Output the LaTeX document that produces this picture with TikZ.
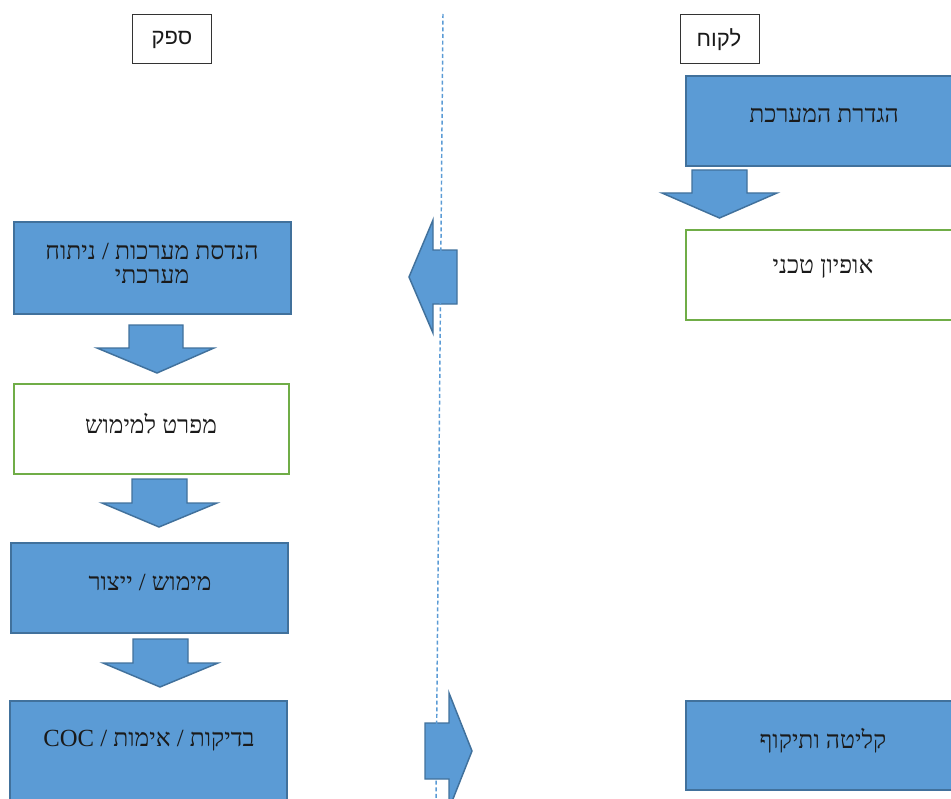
\documentclass[tikz,border=0pt]{standalone}
\usepackage{fontspec}
\TeXXeTstate=1
\newfontfamily\hebserif[Script=Hebrew]{Liberation Serif}
\newfontfamily\hebsans[Script=Hebrew]{Liberation Sans}
\definecolor{fillblue}{HTML}{5B9BD5}
\definecolor{edgeblue}{HTML}{41719C}
\definecolor{edgegreen}{HTML}{70AD47}
\definecolor{txt}{HTML}{1A1A1A}
\tikzset{
  bluebox/.style={draw=edgeblue, fill=fillblue, line width=1.2pt, rectangle, inner sep=0pt},
  greenbox/.style={draw=edgegreen, fill=white, line width=1.2pt, rectangle, inner sep=0pt},
  labelbox/.style={draw=black!80, fill=white, line width=0.6pt, rectangle, inner sep=0pt},
  blockarrow/.style={draw=edgeblue, fill=fillblue, line width=1.1pt, line join=miter},
  maintext/.style={text=txt, font=\hebserif\fontsize{18.5}{18}\selectfont, align=center, inner sep=0pt},
  labeltext/.style={text=txt, font=\hebsans\fontsize{16.5}{19}\selectfont, inner sep=0pt},
  divider/.style={draw=fillblue, line width=1.1pt, dash pattern=on 3pt off 2pt}
}
\begin{document}
\begin{tikzpicture}[x=0.75pt, y=-0.75pt]
\useasboundingbox (0,0) rectangle (951,799);
\clip (0,0) rectangle (951,799);
% column labels
\node[labelbox, minimum width=59.25pt, minimum height=36.75pt] (supplier) at (172,38.5) {};
\node[labeltext] (suppliert) at (172,40) {\beginR ספק\endR};
\node[labelbox, minimum width=59.25pt, minimum height=36.75pt] (client) at (719.5,38.5) {};
\node[labeltext] (clientt) at (719,40) {\beginR לקוח\endR};
% right column
\node[bluebox, minimum width=207pt, minimum height=67.5pt] (def) at (824,121) {};
\node[maintext] (deft) at (824,115) {\beginR הגדרת המערכת\endR};
\node[greenbox, minimum width=207pt, minimum height=67.5pt] (spec) at (824,275) {};
\node[maintext] (spect) at (823,269) {\beginR אופיון טכני\endR};
\node[bluebox, minimum width=207pt, minimum height=66.75pt] (accept) at (824,745.5) {};
\node[maintext] (acceptt) at (823,741) {\beginR קליטה ותיקוף\endR};
% left column
\node[bluebox, minimum width=207.75pt, minimum height=69pt] (eng) at (152.5,268) {};
\node[maintext] (engt) at (152,263) {\beginR הנדסת מערכות / ניתוח\endR\\\beginR מערכתי\endR};
\node[greenbox, minimum width=206.25pt, minimum height=67.5pt] (impl) at (151.5,429) {};
\node[maintext] (implt) at (151,424) {\beginR מפרט למימוש\endR};
\node[bluebox, minimum width=207.75pt, minimum height=67.5pt] (prod) at (149.5,588) {};
\node[maintext] (prodt) at (150,582) {\beginR מימוש / ייצור\endR};
\node[bluebox, minimum width=207.75pt, minimum height=75pt] (test) at (148.5,751) {};
\node[maintext] (testt) at (149,741) {\beginR בדיקות / אימות / \beginL COC\endL\endR};
% down arrows
\draw[blockarrow] (692,170) -- (747,170) -- (747,193) -- (777,193) -- (719.5,218) -- (662,193) -- (692,193) -- cycle;
\draw[blockarrow] (129,325) -- (183,325) -- (183,348) -- (214,348) -- (157,373) -- (97,348) -- (129,348) -- cycle;
\draw[blockarrow] (132,479) -- (187,479) -- (187,503) -- (217,503) -- (159,527) -- (102,503) -- (132,503) -- cycle;
\draw[blockarrow] (133,639) -- (188,639) -- (188,663) -- (218,663) -- (160,687) -- (103,663) -- (133,663) -- cycle;
% horizontal arrows across the divider
\draw[blockarrow] (457,250) -- (457,304) -- (433,304) -- (433,333) -- (409,277) -- (433,220) -- (433,250) -- cycle;
\draw[blockarrow] (425,723) -- (449,723) -- (449,693) -- (472,751) -- (449,809) -- (449,779) -- (425,779) -- cycle;
% divider
\coordinate (dtop) at (443,14);
\coordinate (dbot) at (436,801);
\draw[divider] (dtop) -- (dbot);
\end{tikzpicture}
\end{document}
